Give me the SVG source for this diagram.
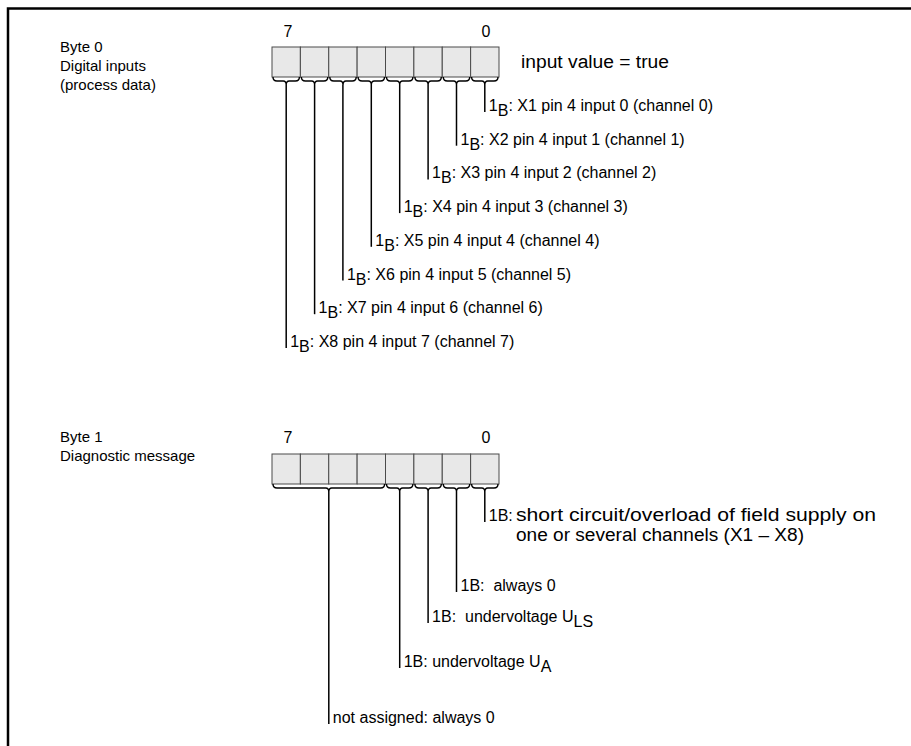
<svg xmlns="http://www.w3.org/2000/svg" width="911" height="746" viewBox="0 0 911 746">
<style>
text{font-family:"Liberation Sans",Arial,sans-serif;font-size:16px;fill:#000;white-space:pre}
.side{font-size:15px}
.big{font-size:18px}
.cell{fill:#e8e8e8;stroke:#4a4a4a;stroke-width:1}
.br{fill:none;stroke:#000;stroke-width:1.4}
.ln{fill:none;stroke:#000;stroke-width:1.5}
.frame{fill:none;stroke:#000;stroke-width:2.5}
</style>
<path class="frame" d="M8,746 V8.5 H911"/>
<g id="byte0">
<text class="side" x="60" y="52">Byte 0</text>
<text class="side" x="60" y="71">Digital inputs</text>
<text class="side" x="60" y="90">(process data)</text>
<text x="288" y="37" text-anchor="middle">7</text>
<text x="486" y="37" text-anchor="middle">0</text>
<g id="byte0-cells">
<rect class="cell" x="272" y="47" width="28.375" height="30"/>
<rect class="cell" x="300.375" y="47" width="28.375" height="30"/>
<rect class="cell" x="328.75" y="47" width="28.375" height="30"/>
<rect class="cell" x="357.125" y="47" width="28.375" height="30"/>
<rect class="cell" x="385.5" y="47" width="28.375" height="30"/>
<rect class="cell" x="413.875" y="47" width="28.375" height="30"/>
<rect class="cell" x="442.25" y="47" width="28.375" height="30"/>
<rect class="cell" x="470.625" y="47" width="28.375" height="30"/>
</g>
<text class="big" x="521" y="68" textLength="148" lengthAdjust="spacingAndGlyphs">input value = true</text>
</g>
<g id="byte0-labels">
<text x="488.8" y="111">1<tspan dy="5">B</tspan><tspan dy="-5">: X1 pin 4 input 0 (channel 0)</tspan></text>
<text x="460.5" y="144.7">1<tspan dy="5">B</tspan><tspan dy="-5">: X2 pin 4 input 1 (channel 1)</tspan></text>
<text x="432.1" y="178.4">1<tspan dy="5">B</tspan><tspan dy="-5">: X3 pin 4 input 2 (channel 2)</tspan></text>
<text x="403.7" y="212.1">1<tspan dy="5">B</tspan><tspan dy="-5">: X4 pin 4 input 3 (channel 3)</tspan></text>
<text x="375.3" y="245.8">1<tspan dy="5">B</tspan><tspan dy="-5">: X5 pin 4 input 4 (channel 4)</tspan></text>
<text x="346.9" y="279.5">1<tspan dy="5">B</tspan><tspan dy="-5">: X6 pin 4 input 5 (channel 5)</tspan></text>
<text x="318.6" y="313.2">1<tspan dy="5">B</tspan><tspan dy="-5">: X7 pin 4 input 6 (channel 6)</tspan></text>
<text x="290.2" y="346.9">1<tspan dy="5">B</tspan><tspan dy="-5">: X8 pin 4 input 7 (channel 7)</tspan></text>
</g>
<g id="byte1">
<text class="side" x="60" y="442">Byte 1</text>
<text class="side" x="60" y="461">Diagnostic message</text>
<text x="288" y="443" text-anchor="middle">7</text>
<text x="486" y="443" text-anchor="middle">0</text>
<g id="byte1-cells">
<rect class="cell" x="272" y="454" width="28.375" height="30"/>
<rect class="cell" x="300.375" y="454" width="28.375" height="30"/>
<rect class="cell" x="328.75" y="454" width="28.375" height="30"/>
<rect class="cell" x="357.125" y="454" width="28.375" height="30"/>
<rect class="cell" x="385.5" y="454" width="28.375" height="30"/>
<rect class="cell" x="413.875" y="454" width="28.375" height="30"/>
<rect class="cell" x="442.25" y="454" width="28.375" height="30"/>
<rect class="cell" x="470.625" y="454" width="28.375" height="30"/>
</g>
</g>
<g id="byte1-labels">
<text x="488.8" y="521">1B:</text>
<text class="big" x="516" y="521" textLength="360" lengthAdjust="spacingAndGlyphs">short circuit/overload of field supply on</text>
<text class="big" x="516" y="541" textLength="288" lengthAdjust="spacingAndGlyphs">one or several channels (X1 – X8)</text>
<text x="460.5" y="591">1B:  always 0</text>
<text x="432.1" y="622">1B:  undervoltage U<tspan dy="5">LS</tspan></text>
<text x="403.7" y="667">1B: undervoltage U<tspan dy="5">A</tspan></text>
<text x="332.8" y="723">not assigned: always 0</text>
</g>
<g id="connectors">
<g id="byte0-braces">
<path class="br" d="M273,77 q0,4 4,4 h6.2 q3,0 3,4 q0,-4 3,-4 h6.2 q4,0 4,-4"/>
<path class="br" d="M301.4,77 q0,4 4,4 h6.2 q3,0 3,4 q0,-4 3,-4 h6.2 q4,0 4,-4"/>
<path class="br" d="M329.8,77 q0,4 4,4 h6.2 q3,0 3,4 q0,-4 3,-4 h6.2 q4,0 4,-4"/>
<path class="br" d="M358.1,77 q0,4 4,4 h6.2 q3,0 3,4 q0,-4 3,-4 h6.2 q4,0 4,-4"/>
<path class="br" d="M386.5,77 q0,4 4,4 h6.2 q3,0 3,4 q0,-4 3,-4 h6.2 q4,0 4,-4"/>
<path class="br" d="M414.9,77 q0,4 4,4 h6.2 q3,0 3,4 q0,-4 3,-4 h6.2 q4,0 4,-4"/>
<path class="br" d="M443.3,77 q0,4 4,4 h6.2 q3,0 3,4 q0,-4 3,-4 h6.2 q4,0 4,-4"/>
<path class="br" d="M471.6,77 q0,4 4,4 h6.2 q3,0 3,4 q0,-4 3,-4 h6.2 q4,0 4,-4"/>
</g>
<g id="byte0-lines">
<path class="ln" d="M484.8,85 V112"/>
<path class="ln" d="M456.5,85 V145.7"/>
<path class="ln" d="M428.1,85 V179.4"/>
<path class="ln" d="M399.7,85 V213.1"/>
<path class="ln" d="M371.3,85 V246.8"/>
<path class="ln" d="M342.9,85 V280.5"/>
<path class="ln" d="M314.6,85 V314.2"/>
<path class="ln" d="M286.2,85 V347.9"/>
</g>
<g id="byte1-braces">
<path class="br" d="M273,484 q0,4 4,4 h48.8 q3,0 3,4 q0,-4 3,-4 h48.8 q4,0 4,-4"/>
<path class="br" d="M386.5,484 q0,4 4,4 h6.2 q3,0 3,4 q0,-4 3,-4 h6.2 q4,0 4,-4"/>
<path class="br" d="M414.9,484 q0,4 4,4 h6.2 q3,0 3,4 q0,-4 3,-4 h6.2 q4,0 4,-4"/>
<path class="br" d="M443.3,484 q0,4 4,4 h6.2 q3,0 3,4 q0,-4 3,-4 h6.2 q4,0 4,-4"/>
<path class="br" d="M471.6,484 q0,4 4,4 h6.2 q3,0 3,4 q0,-4 3,-4 h6.2 q4,0 4,-4"/>
</g>
<g id="byte1-lines">
<path class="ln" d="M484.8,492 V522"/>
<path class="ln" d="M456.5,492 V592"/>
<path class="ln" d="M428.1,492 V623"/>
<path class="ln" d="M399.7,492 V668"/>
<path class="ln" d="M328.8,492 V724"/>
</g>
</g>
</svg>
